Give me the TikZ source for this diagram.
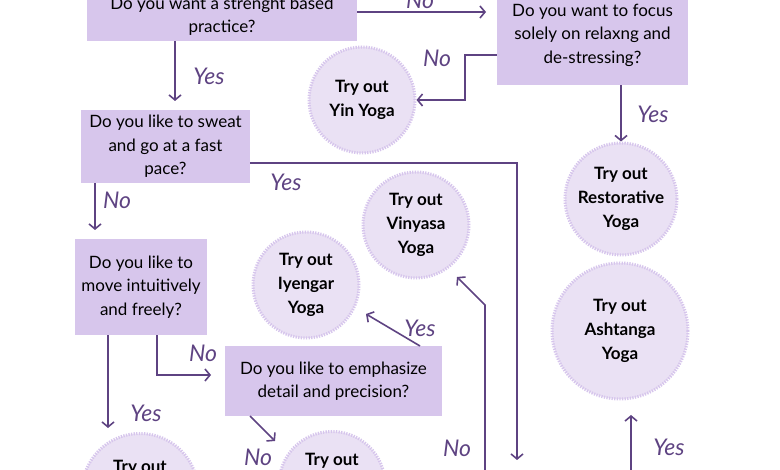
\documentclass[tikz,border=0pt]{standalone}
\usepackage{fontspec}
\setmainfont{Lato}
\usetikzlibrary{arrows.meta}
\definecolor{boxc}{HTML}{D7C6EC}
\definecolor{circc}{HTML}{EAE1F4}
\definecolor{dotc}{HTML}{D6C5EC}
\definecolor{linec}{HTML}{5E4382}
\tikzset{
 qbox/.style={fill=boxc,draw=none,align=center,font=\fontsize{17}{23.5}\selectfont,inner sep=0pt},
 tryc/.style={circle,fill=circc,draw=dotc,line width=3pt,dash pattern=on 1.3pt off 1.3pt,align=center,font=\bfseries\fontsize{17}{24}\selectfont,inner sep=0pt},
 conn/.style={draw=linec,line width=1.6pt,-{Straight Barb[length=5pt,width=12pt,line width=1.6pt]}},
 lbl/.style={text=linec,font=\itshape\fontsize{23}{23}\selectfont},
}
\begin{document}
\begin{tikzpicture}[x=1pt,y=-1pt]
\useasboundingbox (0,0) rectangle (780,470);
\clip (0,0) rectangle (780,470);
% boxes
\node[qbox,minimum width=270,minimum height=50] (b1) at (222,16) {Do you want a strenght based\\practice?};
\node[qbox,minimum width=191,minimum height=100] (b2) at (592.5,35) {Do you want to focus\\solely on relaxng and\\de-stressing?};
\node[qbox,minimum width=169,minimum height=73] (b3) at (165.5,146.5) {Do you like to sweat\\and go at a fast\\pace?};
\node[qbox,minimum width=132,minimum height=96] (b4) at (141,287) {Do you like to\\move intuitively\\and freely?};
\node[qbox,minimum width=217,minimum height=70] (b5) at (333.5,381) {Do you like to emphasize\\detail and precision?};
% circles
\node[tryc,minimum size=106] (yin) at (362,100) {Try out\\Yin Yoga};
\node[tryc,minimum size=112] (rest) at (621,199) {Try out\\Restorative\\Yoga};
\node[tryc,minimum size=136] (ash) at (620,331) {Try out\\Ashtanga\\Yoga};
\node[tryc,minimum size=106] (vin) at (416,225) {Try out\\Vinyasa\\Yoga};
\node[tryc,minimum size=106] (iye) at (306,285) {Try out\\Iyengar\\Yoga};
\node[tryc,minimum size=116,anchor=north] (bl) at (140,432) {Try out\\\phantom{Yoga}\\\phantom{Yoga}};
\node[tryc,minimum size=106,anchor=north] (bm) at (332,430) {Try out\\\phantom{Yoga}\\\phantom{Yoga}};
% connectors
\coordinate (b3r) at (b3.east |- 0,163);
\coordinate (e1) at (517,460);
\coordinate (s1) at (485,480);
\coordinate (s2) at (631,480);
\draw[conn] (b1.east |- 0,12) -- (486,12);
\draw[conn] (b2.west |- 0,55) -| (465,100) -- (yin.east |- 0,100);
\draw[conn] (b1.south -| 175,0) -- (175,101);
\draw[conn] (b2.south -| 621,0) -- (rest.north);
\draw[conn] (b3r) -| (e1);
\draw[conn] (b3.south -| 95,0) -- (95,230);
\draw[conn] (b4.south -| 157,0) |- (211,375);
\draw[conn] (b4.south -| 108,0) -- (108,428);
\draw[conn] (420,346) -- (366,314);
\draw[conn] (250,416) -- (275,441);
\draw[conn] (s1) -- (485,305) -- (457,277);
\draw[conn] (s2) -- (631,415);
% labels
\node[lbl] at (420,0) {No};
\node[lbl] at (437,58) {No};
\node[lbl] at (209,76) {Yes};
\node[lbl] at (653,114) {Yes};
\node[lbl] at (286,182) {Yes};
\node[lbl] at (117,200) {No};
\node[lbl] at (203,353) {No};
\node[lbl] at (146,413) {Yes};
\node[lbl] at (420,328) {Yes};
\node[lbl] at (258,457) {No};
\node[lbl] at (457,448) {No};
\node[lbl] at (669,447) {Yes};
\end{tikzpicture}
\end{document}
